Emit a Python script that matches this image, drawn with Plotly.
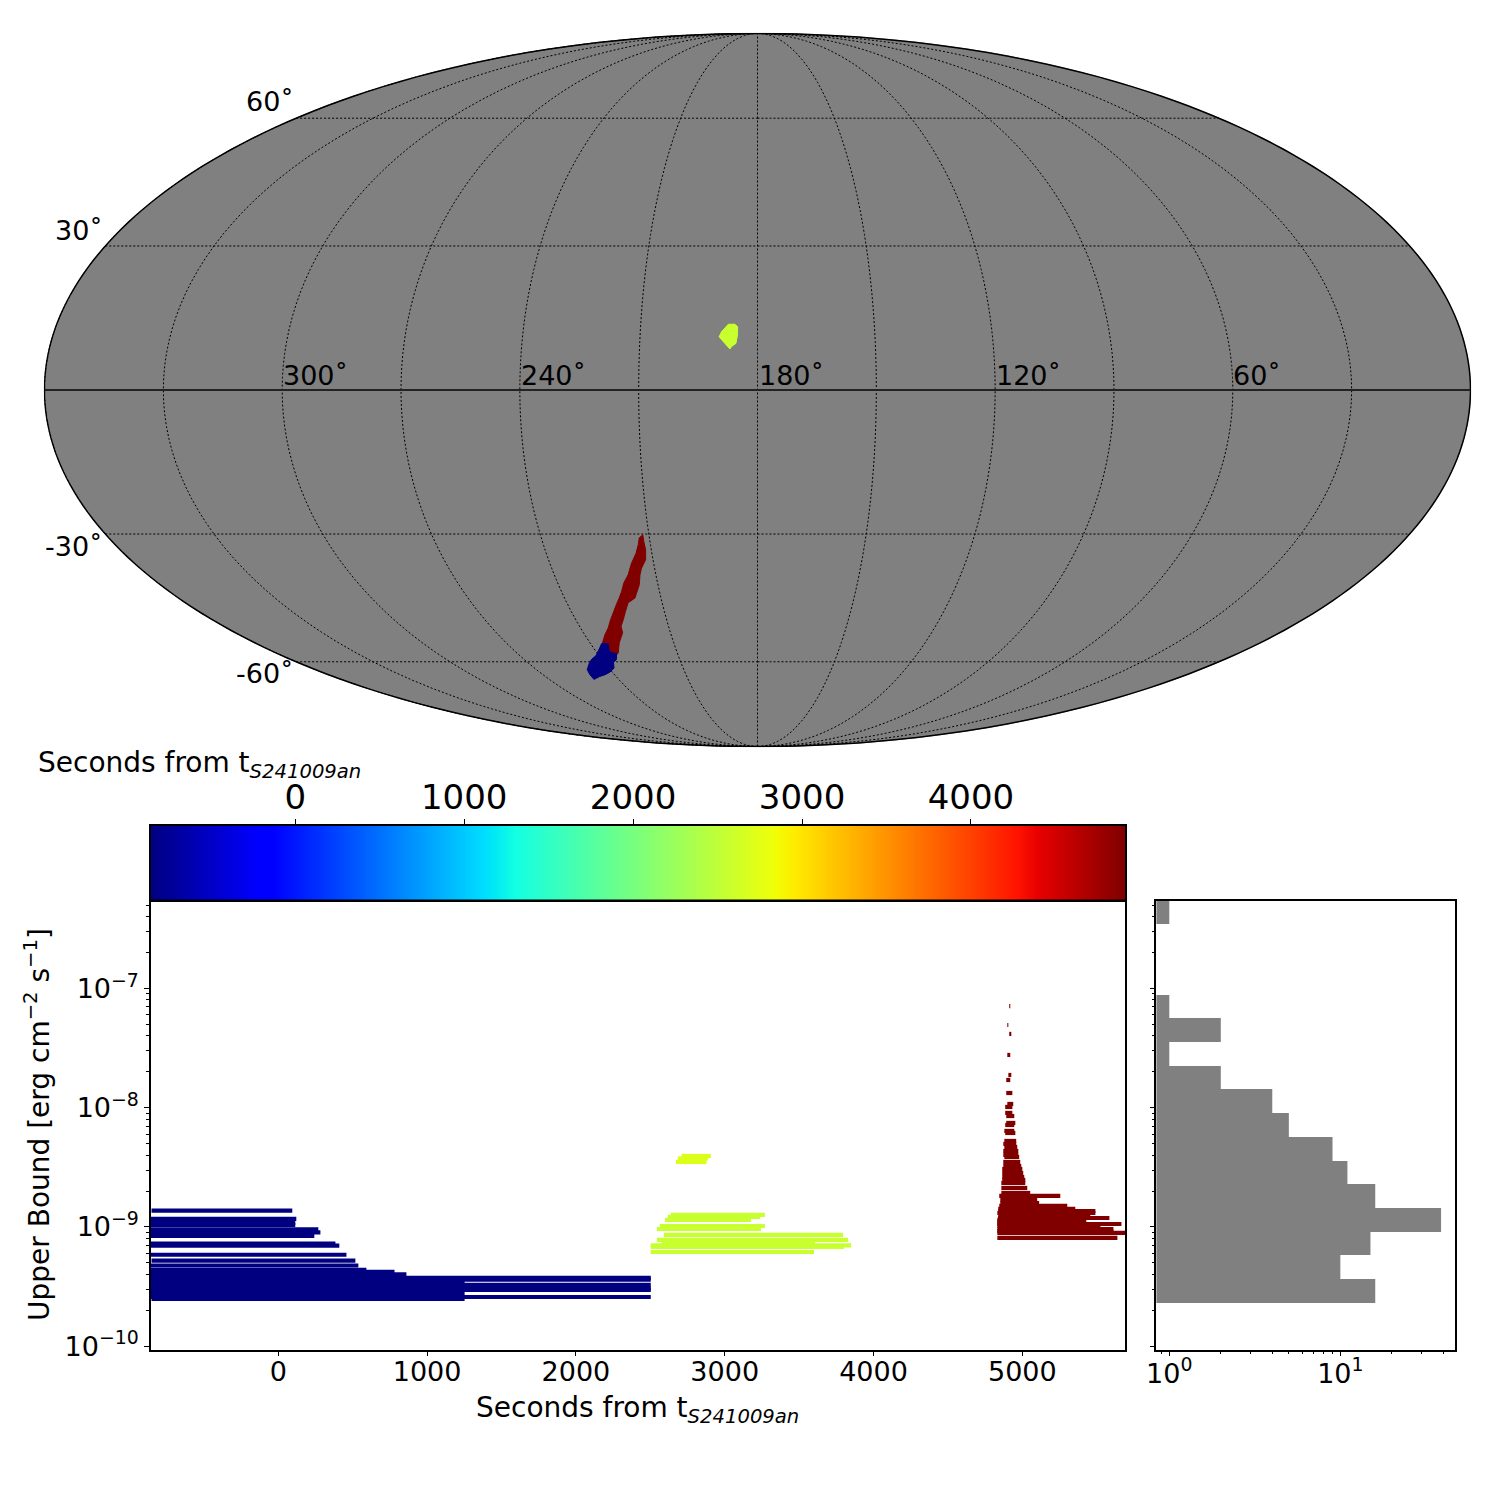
import numpy as np
import plotly.graph_objects as go

GRAY = '#808080'
FONT = 'DejaVu Sans'

# sky regions (right ascension / declination, degrees)
blue_ra = [236.0, 233.6, 235.1, 232.9, 234.4, 236.4, 237.9, 241.0, 244.0, 247.0, 250.7, 250.3, 249.3, 245.8, 243.8, 241.2, 237.7, 236.0]
blue_dec = [-55.3, -55.3, -57.3, -57.9, -59.4, -60.2, -61.7, -62.8, -63.5, -64.0, -64.8, -63.5, -62.1, -60.2, -59.3, -58.4, -56.4, -55.3]
yellow_ra = [187.5, 185.8, 185.1, 185.1, 185.5, 186.6, 187.0, 188.3, 189.8, 189.2, 187.5]
yellow_dec = [13.5, 13.5, 13.0, 11.3, 9.55, 8.9, 8.4, 9.55, 10.9, 11.95, 13.5]
red_ra = [211.7, 211.7, 211.6, 212.1, 213.8, 214.7, 215.6, 217.1, 218.1, 220.7, 222.5, 224.3, 226.0, 226.5, 229.5, 232.1, 234.3,
          236.0, 235.5, 233.0, 230.6, 228.5, 226.7, 224.6, 223.0, 221.6, 220.1, 218.2, 216.4, 214.5, 213.4, 212.8, 211.7]
red_dec = [-30.2, -31.6, -33.4, -35.6, -37.5, -39.0, -41.2, -43.1, -44.3, -45.4, -47.4, -49.4, -51.0, -52.6, -55.1, -57.7, -58.7,
           -58.6, -55.1, -53.1, -51.4, -49.4, -47.8, -45.8, -44.3, -42.8, -40.8, -39.0, -36.4, -34.2, -32.3, -30.8, -30.2]
equator_ra = [359.9, 270, 180, 90, 0.1]
equator_dec = [0, 0, 0, 0, 0]

# upper bounds, log10(erg cm-2 s-1), with the time window of each
blue_log_ul = [-8.863, -8.933, -8.966, -8.983, -9.021, -9.046, -9.075, -9.140, -9.157, -9.233, -9.282, -9.323, -9.360, -9.377, -9.398,
               -9.427, -9.441, -9.486, -9.515, -9.528, -9.587, -9.453, -9.553, -9.604]
blue_start = [-852, -870, -870, -870, -870, -870, -870, -870, -870, -870, -852, -870, -870, -870, -870,
              -870, -870, -870, -870, -870, -870, -870, -870, -852]
blue_end = [94, 121, 114, 114, 269, 283, 242, 384, 410, 458, 518, 538, 592, 781, 861,
            2503, 2503, 2503, 2503, 2503, 2503, 1252, 1252, 1252]

yellow_top_log_ul = [-8.405, -8.426, -8.455]
yellow_top_start = [2710, 2685, 2672]
yellow_top_end = [2907, 2887, 2878]
yellow_log_ul = [-8.899, -8.916, -8.941, -8.992, -9.017, -9.067, -9.109, -9.134, -9.155, -9.168, -9.210]
yellow_start = [2638, 2618, 2598, 2564, 2544, 2591, 2544, 2577, 2503, 2503, 2503]
yellow_end = [3270, 3237, 3176, 3270, 3244, 3795, 3829, 3607, 3849, 3802, 3600]

red_log_ul = [-7.148, -7.307, -7.382, -7.558, -7.726, -7.768, -7.877, -7.969, -7.994, -8.044, -8.070, -8.128, -8.145, -8.195, -8.212,
              -8.279, -8.304, -8.329, -8.363, -8.396, -8.413, -8.455, -8.489, -8.514, -8.547, -8.581, -8.606, -8.631, -8.673, -8.715,
              -8.740, -8.774, -8.799, -8.824, -8.849, -8.866, -8.883, -8.916, -8.925, -8.941, -8.958, -8.975, -8.992, -9.017, -9.034,
              -9.050, -9.092]
red_start = [4912, 4899, 4912, 4899, 4906, 4892, 4892, 4899, 4885, 4885, 4892, 4892, 4885, 4879, 4885,
             4879, 4872, 4879, 4872, 4872, 4879, 4872, 4872, 4865, 4865, 4865, 4865, 4859, 4859, 4859,
             4845, 4852, 4852, 4845, 4838, 4838, 4832, 4838, 4838, 4832, 4832, 4832, 4832, 4832, 4832,
             4832, 4832]
red_end = [4919, 4906, 4926, 4919, 4926, 4919, 4933, 4939, 4933, 4933, 4946, 4953, 4946, 4946, 4953,
           4959, 4959, 4966, 4973, 4973, 4979, 4986, 4993, 5000, 5006, 5013, 5020, 5020, 5033, 5053,
           5255, 5100, 5113, 5302, 5356, 5491, 5491, 5457, 5585, 5397, 5430, 5666, 5525, 5612, 5612,
           5700, 5639]

# histogram of the upper bounds
hist_log_edges = [-9.637, -9.436, -9.235, -9.042, -8.841, -8.640, -8.447, -8.246, -8.044, -7.843, -7.650, -7.449, -7.248, -7.055]
hist_counts = [16, 10, 15, 38.8, 16, 11, 9, 5, 4, 2, 1, 2, 1]
hist_top_log_edges = [-6.460, -6.265]
hist_top_count = [1]

cbar_ticks = [0, 1000, 2000, 3000, 4000]
main_xticks = [0, 1000, 2000, 3000, 4000, 5000]
main_yticks = [1e-10, 1e-9, 1e-8, 1e-7]
main_ylabels = ['10<sup>−10</sup>', '10<sup>−9</sup>', '10<sup>−8</sup>', '10<sup>−7</sup>']
hist_xticks = [1, 10]
hist_xlabels = ['10<sup>0</sup>', '10<sup>1</sup>']
lat_labels = ['60˚', '30˚', '-30˚', '-60˚']
lon_labels = ['300˚', '240˚', '180˚', '120˚', '60˚']

VMIN, VMAX = -854, 4912
jet = [[0, '#000080'], [.11, '#0000ff'], [.125, '#0000ff'], [.34, '#00dbff'], [.35, '#00e6f7'], [.375, '#14ffe2'],
       [.64, '#efff08'], [.65, '#f7f600'], [.66, '#ffec00'], [.89, '#ff1300'], [.91, '#e80000'], [1, '#800000']]


def segments(log_ul, start, end):
    xs, ys = [], []
    for u, a, b in zip(log_ul, start, end):
        xs += [a, b, None]
        ys += [10 ** u, 10 ** u, None]
    return xs, ys


def sky_trace(ra, dec, color):
    lon = [360 - r for r in ra]
    return go.Scattergeo(lon=lon, lat=dec, mode='lines', fill='toself', fillcolor=color,
                         line=dict(color=color, width=1), hoverinfo='skip', showlegend=False)


fig = go.Figure()

fig.add_trace(sky_trace(red_ra, red_dec, '#800000'))
fig.add_trace(sky_trace(blue_ra, blue_dec, '#000080'))
fig.add_trace(sky_trace(yellow_ra, yellow_dec, '#c8ff2e'))
fig.add_trace(go.Scattergeo(lon=[360 - r for r in equator_ra], lat=equator_dec, mode='lines',
                            line=dict(color='#222222', width=2), hoverinfo='skip', showlegend=False))

for log_ul, start, end, color in [(blue_log_ul, blue_start, blue_end, '#000080'),
                                  (yellow_top_log_ul, yellow_top_start, yellow_top_end, '#dcff1a'),
                                  (yellow_log_ul, yellow_start, yellow_end, '#c8ff2e'),
                                  (red_log_ul, red_start, red_end, '#800000')]:
    xs, ys = segments(log_ul, start, end)
    fig.add_trace(go.Scatter(x=xs, y=ys, mode='lines', line=dict(color=color, width=4.2), showlegend=False))

# colorbar strip sits on its own axes so the ticks can go on top
cbar_x = np.linspace(VMIN, VMAX, 512)
fig.add_trace(go.Heatmap(x=cbar_x, y=[0, 1], z=[cbar_x, cbar_x], colorscale=jet, zmin=VMIN, zmax=VMAX,
                         showscale=False, xaxis='x2', yaxis='y2'))

hx, hy = [], []
for i, c in enumerate(hist_counts):
    hx += [0.5, c, c, 0.5, 0.5, None]
    lo, hi = 10 ** hist_log_edges[i], 10 ** hist_log_edges[i + 1]
    hy += [lo, lo, hi, hi, lo, None]
for c in hist_top_count:
    lo, hi = 10 ** hist_top_log_edges[0], 10 ** hist_top_log_edges[1]
    hx += [0.5, c, c, 0.5, 0.5, None]
    hy += [lo, lo, hi, hi, lo, None]
fig.add_trace(go.Scatter(x=hx, y=hy, mode='lines', fill='toself', fillcolor=GRAY, line=dict(width=0),
                         xaxis='x3', yaxis='y3', showlegend=False))

axis_common = dict(showline=True, linecolor='black', linewidth=1.5, mirror=True, showgrid=False, zeroline=False,
                   ticks='outside', ticklen=5, tickwidth=1, tickcolor='black', automargin=False)
minor = dict(ticks='outside', ticklen=3, tickwidth=1, tickcolor='black', dtick='D1', showgrid=False)
y_range = [-10.028, -6.265]


# the page body puts 8px in front of the plot
def fx(p):
    return (p - 8) / 1500


def fy(p):
    return 1 - (p - 8) / 1500


def px_x(a, b):
    return [fx(a), fx(b)]


def px_y(top, bottom):
    return [fy(bottom), fy(top)]


fig.update_layout(
    template='none',
    width=1500, height=1500, autosize=False,
    margin=dict(l=0, r=0, t=0, b=0),
    paper_bgcolor='white', plot_bgcolor='white',
    font=dict(family=FONT, color='black', size=24),
    showlegend=False,
    geo=dict(
        domain=dict(x=px_x(30, 1485), y=px_y(33.5, 746.5)),
        projection=dict(type='mollweide', rotation=dict(lon=180)),
        bgcolor='rgba(0,0,0,0)',
        showland=False, showocean=False, showlakes=False, showrivers=False,
        showcountries=False, showcoastlines=False, showsubunits=False,
        showframe=True, framecolor='black', framewidth=1.5,
        lonaxis=dict(showgrid=True, dtick=30, gridcolor='black', gridwidth=1, griddash='2px,2px'),
        lataxis=dict(showgrid=True, dtick=30, gridcolor='black', gridwidth=1, griddash='2px,2px'),
    ),
    xaxis=dict(domain=px_x(151, 1125), range=[-855.5, 5690], tickvals=main_xticks, tickformat='d',
               tickfont=dict(size=27), ticklabelstandoff=-8, anchor='y', **axis_common),
    yaxis=dict(domain=px_y(900.7, 1349.6), type='log', range=y_range, tickvals=main_yticks, ticktext=main_ylabels, minor=minor,
               tickfont=dict(size=27), anchor='x', **axis_common),
    xaxis2=dict(domain=px_x(151, 1125), range=[VMIN, VMAX], side='top', tickvals=cbar_ticks, tickformat='d',
                tickfont=dict(size=34), ticklabelstandoff=-4, anchor='y2', **axis_common),
    yaxis2=dict(domain=px_y(825.7, 899.6), range=[0, 1], showticklabels=False, ticks='', showline=True, linecolor='black',
                linewidth=1.5, mirror=True, showgrid=False, zeroline=False, anchor='x2', automargin=False),
    xaxis3=dict(domain=px_x(1156.4, 1454.6), type='log', range=[-0.0754, 1.668], tickvals=hist_xticks, ticktext=hist_xlabels,
                minor=minor, tickfont=dict(size=27), ticklabelstandoff=-6, anchor='y3', **axis_common),
    yaxis3=dict(domain=px_y(900.7, 1349.6), type='log', range=y_range, dtick=1, showticklabels=False, minor=minor,
                anchor='x3', **axis_common),
    shapes=[dict(type='circle', xref='paper', yref='paper', layer='below',
                 x0=fx(45), x1=fx(1471), y0=fy(747), y1=fy(33),
                 fillcolor=GRAY, line=dict(width=0))],
)


def label(text, px, py, size, angle=0):
    fig.add_annotation(text=text, x=fx(px), y=fy(py), xref='paper', yref='paper', showarrow=False,
                       xanchor='center', yanchor='middle',
                       font=dict(size=size, family=FONT, color='black'), textangle=angle)


for text, px, py in zip(lat_labels, [270, 79, 74, 265], [102, 230, 547, 674]):
    label(text, px, py, 27)
for text, px in zip(lon_labels, [315, 553, 792, 1028, 1257]):
    label(text, px, 375, 27)

title = 'Seconds from t<sub><i>S241009an</i></sub>'
label(title, 199, 764, 28)
label(title, 637, 1409, 28)
label('Upper Bound [erg cm<sup>−2</sup> s<sup>−1</sup>]', 37, 1125, 28, angle=-90)

fig.write_html("out.html")
